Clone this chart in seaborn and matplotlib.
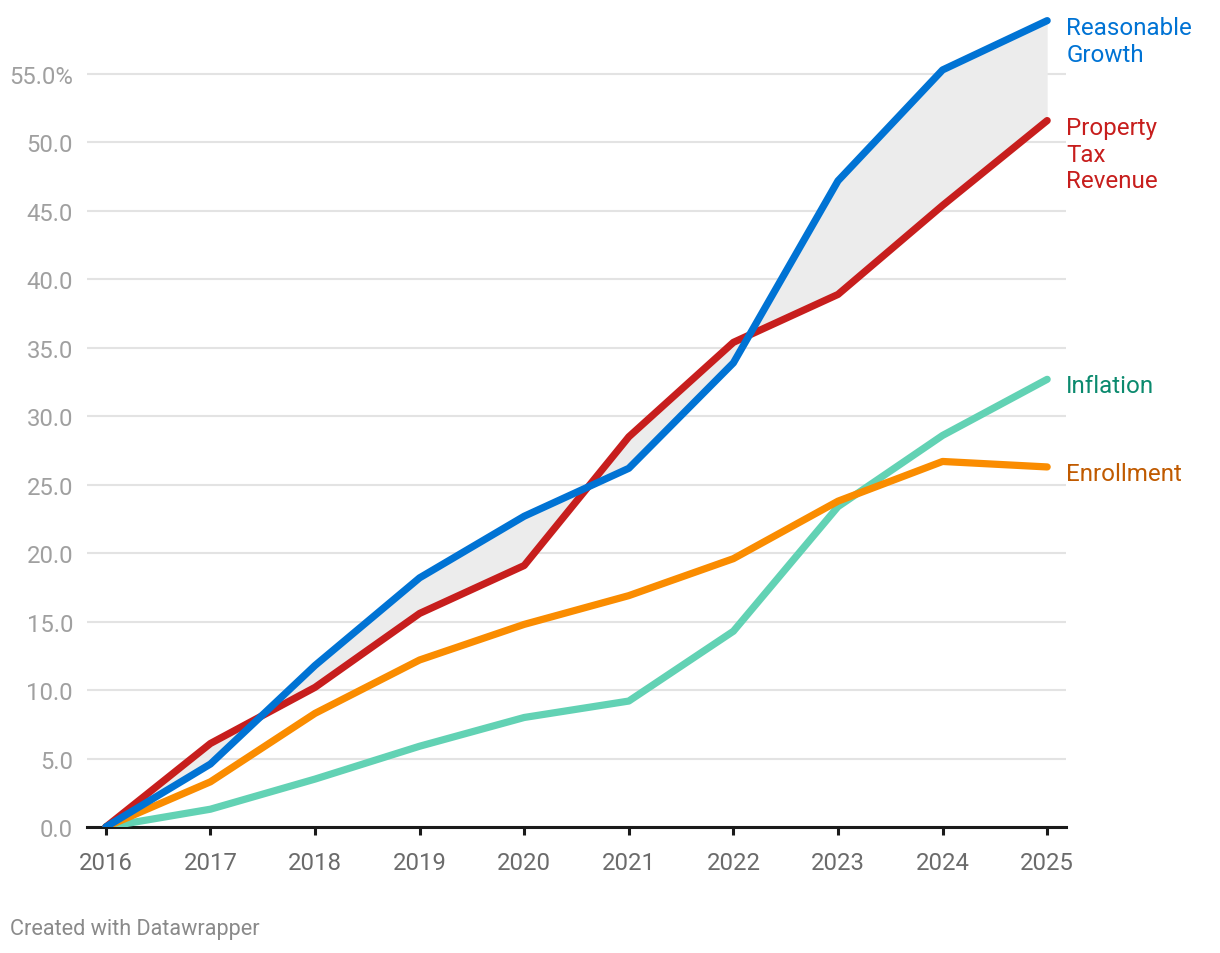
import matplotlib
matplotlib.use("Agg")
import matplotlib.pyplot as plt
import seaborn as sns
import pandas as pd
import numpy as np

years = [2016, 2017, 2018, 2019, 2020, 2021, 2022, 2023, 2024, 2025]
reasonable_growth = [0.0, 4.6, 11.8, 18.2, 22.7, 26.2, 33.9, 47.2, 55.3, 58.9]
property_tax = [0.0, 6.1, 10.2, 15.6, 19.1, 28.5, 35.4, 38.9, 45.4, 51.6]
enrollment = [0.0, 3.3, 8.3, 12.2, 14.8, 16.9, 19.6, 23.8, 26.7, 26.3]
inflation = [0.0, 1.3, 3.5, 5.9, 8.0, 9.2, 14.3, 23.4, 28.6, 32.7]

series_names = ["Inflation", "Enrollment", "Property Tax Revenue", "Reasonable Growth"]
series_values = [inflation, enrollment, property_tax, reasonable_growth]
label_texts = ["Inflation", "Enrollment", "Property\nTax\nRevenue", "Reasonable\nGrowth"]
line_colors = ["#62d2b4", "#fa8c00", "#c71e1d", "#0073d4"]
label_colors = ["#0b8a6e", "#c05a00", "#c71e1d", "#0073d4"]

y_ticks = [0, 5, 10, 15, 20, 25, 30, 35, 40, 45, 50, 55]
y_tick_labels = ["0.0", "5.0", "10.0", "15.0", "20.0", "25.0", "30.0", "35.0",
                 "40.0", "45.0", "50.0", "55.0%"]

df = pd.DataFrame({
    "year": years * len(series_names),
    "value": sum(series_values, []),
    "series": sum([[n] * len(years) for n in series_names], []),
})

sns.set_theme(style="white")
plt.rcParams["font.family"] = ["Roboto", "DejaVu Sans"]

fig = plt.figure(figsize=(12.2, 9.54), dpi=100)
ax = fig.add_axes([87 / 1220, 1 - 828 / 954, (1066 - 87) / 1220, (828 - 10) / 954])

ax.fill_between(years, reasonable_growth, property_tax, color="#ececec", zorder=1, linewidth=0)

sns.lineplot(data=df, x="year", y="value", hue="series", hue_order=series_names,
             palette=dict(zip(series_names, line_colors)), linewidth=5.2,
             legend=False, ax=ax, zorder=3)
for ln in ax.get_lines():
    ln.set_solid_capstyle("round")
    ln.set_solid_joinstyle("round")

ax.set_xlim(2016 - 0.18, 2025 + 0.18)
ax.set_ylim(0, 59.75)
ax.set_yticks(y_ticks)
ax.set_yticklabels(y_tick_labels)
ax.set_xticks(years)
ax.set_xticklabels([str(y) for y in years])
ax.grid(axis="y", color="#e3e3e3", linewidth=1.5, zorder=0)
ax.grid(axis="x", visible=False)
ax.set_axisbelow(True)
for s in ["top", "right", "left"]:
    ax.spines[s].set_visible(False)
ax.spines["bottom"].set_color("#1a1a1a")
ax.spines["bottom"].set_linewidth(2.2)
ax.spines["bottom"].set_zorder(2)
ax.tick_params(axis="y", length=0, pad=10, labelsize=17.2, labelcolor="#a0a0a0")
ax.tick_params(axis="x", length=6, width=2.2, color="#1a1a1a", direction="out",
               pad=11, labelsize=17.2, labelcolor="#6b6b6b", bottom=True)
ax.set_xlabel("")
ax.set_ylabel("")

for txt, vals, col in zip(label_texts, series_values, label_colors):
    ax.annotate(txt, xy=(years[-1], vals[-1]), xytext=(19, 5), textcoords="offset pixels",
                ha="left", va="top", fontsize=17.4, color=col, linespacing=1.22,
                annotation_clip=False)

fig.text(10 / 1220, 1 - 930 / 954, "Created with Datawrapper", ha="left", va="center",
         fontsize=15.6, color="#8a8a8a")

fig.savefig("out.png", dpi=100)
